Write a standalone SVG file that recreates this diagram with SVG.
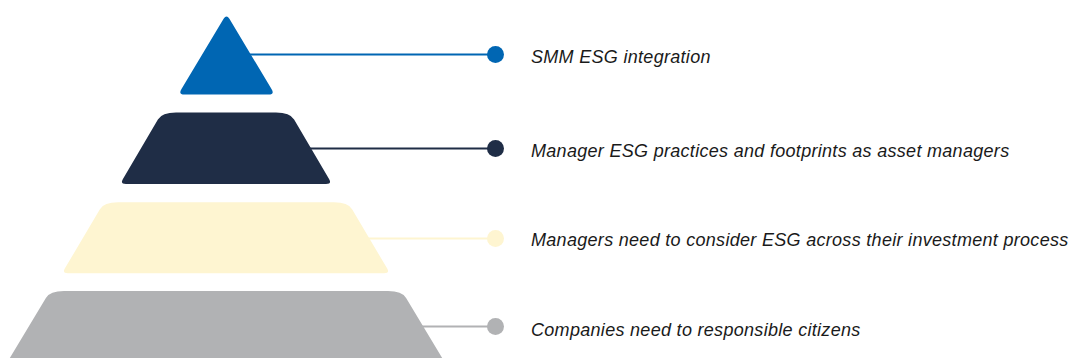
<svg xmlns="http://www.w3.org/2000/svg" width="1072" height="358" viewBox="0 0 1072 358">
<style>
.lbl{font-family:"Liberation Sans",Arial,sans-serif;font-style:italic;font-size:18px;letter-spacing:0.3px;fill:#1a1a1a}
.ln{stroke-width:2;fill:none}
</style>
<rect width="1072" height="358" fill="#ffffff"/>
<g id="connectors">
<line class="ln" x1="250" y1="54.5" x2="495.5" y2="54.5" stroke="#0066B3"/>
<circle cx="495.5" cy="54.5" r="8.5" fill="#0066B3"/>
<line class="ln" x1="310" y1="148.5" x2="495.5" y2="148.5" stroke="#1F2D46"/>
<circle cx="495.5" cy="148.5" r="8.5" fill="#1F2D46"/>
<line class="ln" x1="365" y1="238.5" x2="495.5" y2="238.5" stroke="#FEF5D1"/>
<circle cx="495.5" cy="238.5" r="8.5" fill="#FEF5D1"/>
<line class="ln" x1="420" y1="326.5" x2="495.5" y2="326.5" stroke="#B1B2B4"/>
<circle cx="495.5" cy="326.5" r="8.5" fill="#B1B2B4"/>
</g>
<g id="level1">
<path d="M223.6,18.8 Q226.5,14 229.4,18.8 L271.5,89 Q275,94.5 268.5,94.5 L184.5,94.5 Q178,94.5 181.5,89 Z" fill="#0066B3"/>
<text class="lbl" x="531" y="62.7">SMM ESG integration</text>
</g>
<g id="level2">
<path d="M176,112.5 L276,112.5 Q290,112.5 294.1,119.4 L329.2,179.3 Q332,184 326,184 L126,184 Q120,184 122.8,179.3 L157.9,119.4 Q162,112.5 176,112.5 Z" fill="#1F2D46"/>
<text class="lbl" x="531" y="156.5">Manager ESG practices and footprints as asset managers</text>
</g>
<g id="level3">
<path d="M118,202.3 L334,202.3 Q348,202.3 352.1,209.2 L387.2,268.6 Q390,273.3 384,273.3 L68,273.3 Q62,273.3 64.8,268.6 L99.9,209.2 Q104,202.3 118,202.3 Z" fill="#FEF5D1"/>
<text class="lbl" x="531" y="246">Managers need to consider ESG across their investment process</text>
</g>
<g id="level4">
<path d="M64,291 L388,291 Q402,291 406.1,297.9 L449.4,370 L2.6,370 L45.9,297.9 Q50,291 64,291 Z" fill="#B1B2B4"/>
<text class="lbl" x="531" y="336">Companies need to responsible citizens</text>
</g>
</svg>
